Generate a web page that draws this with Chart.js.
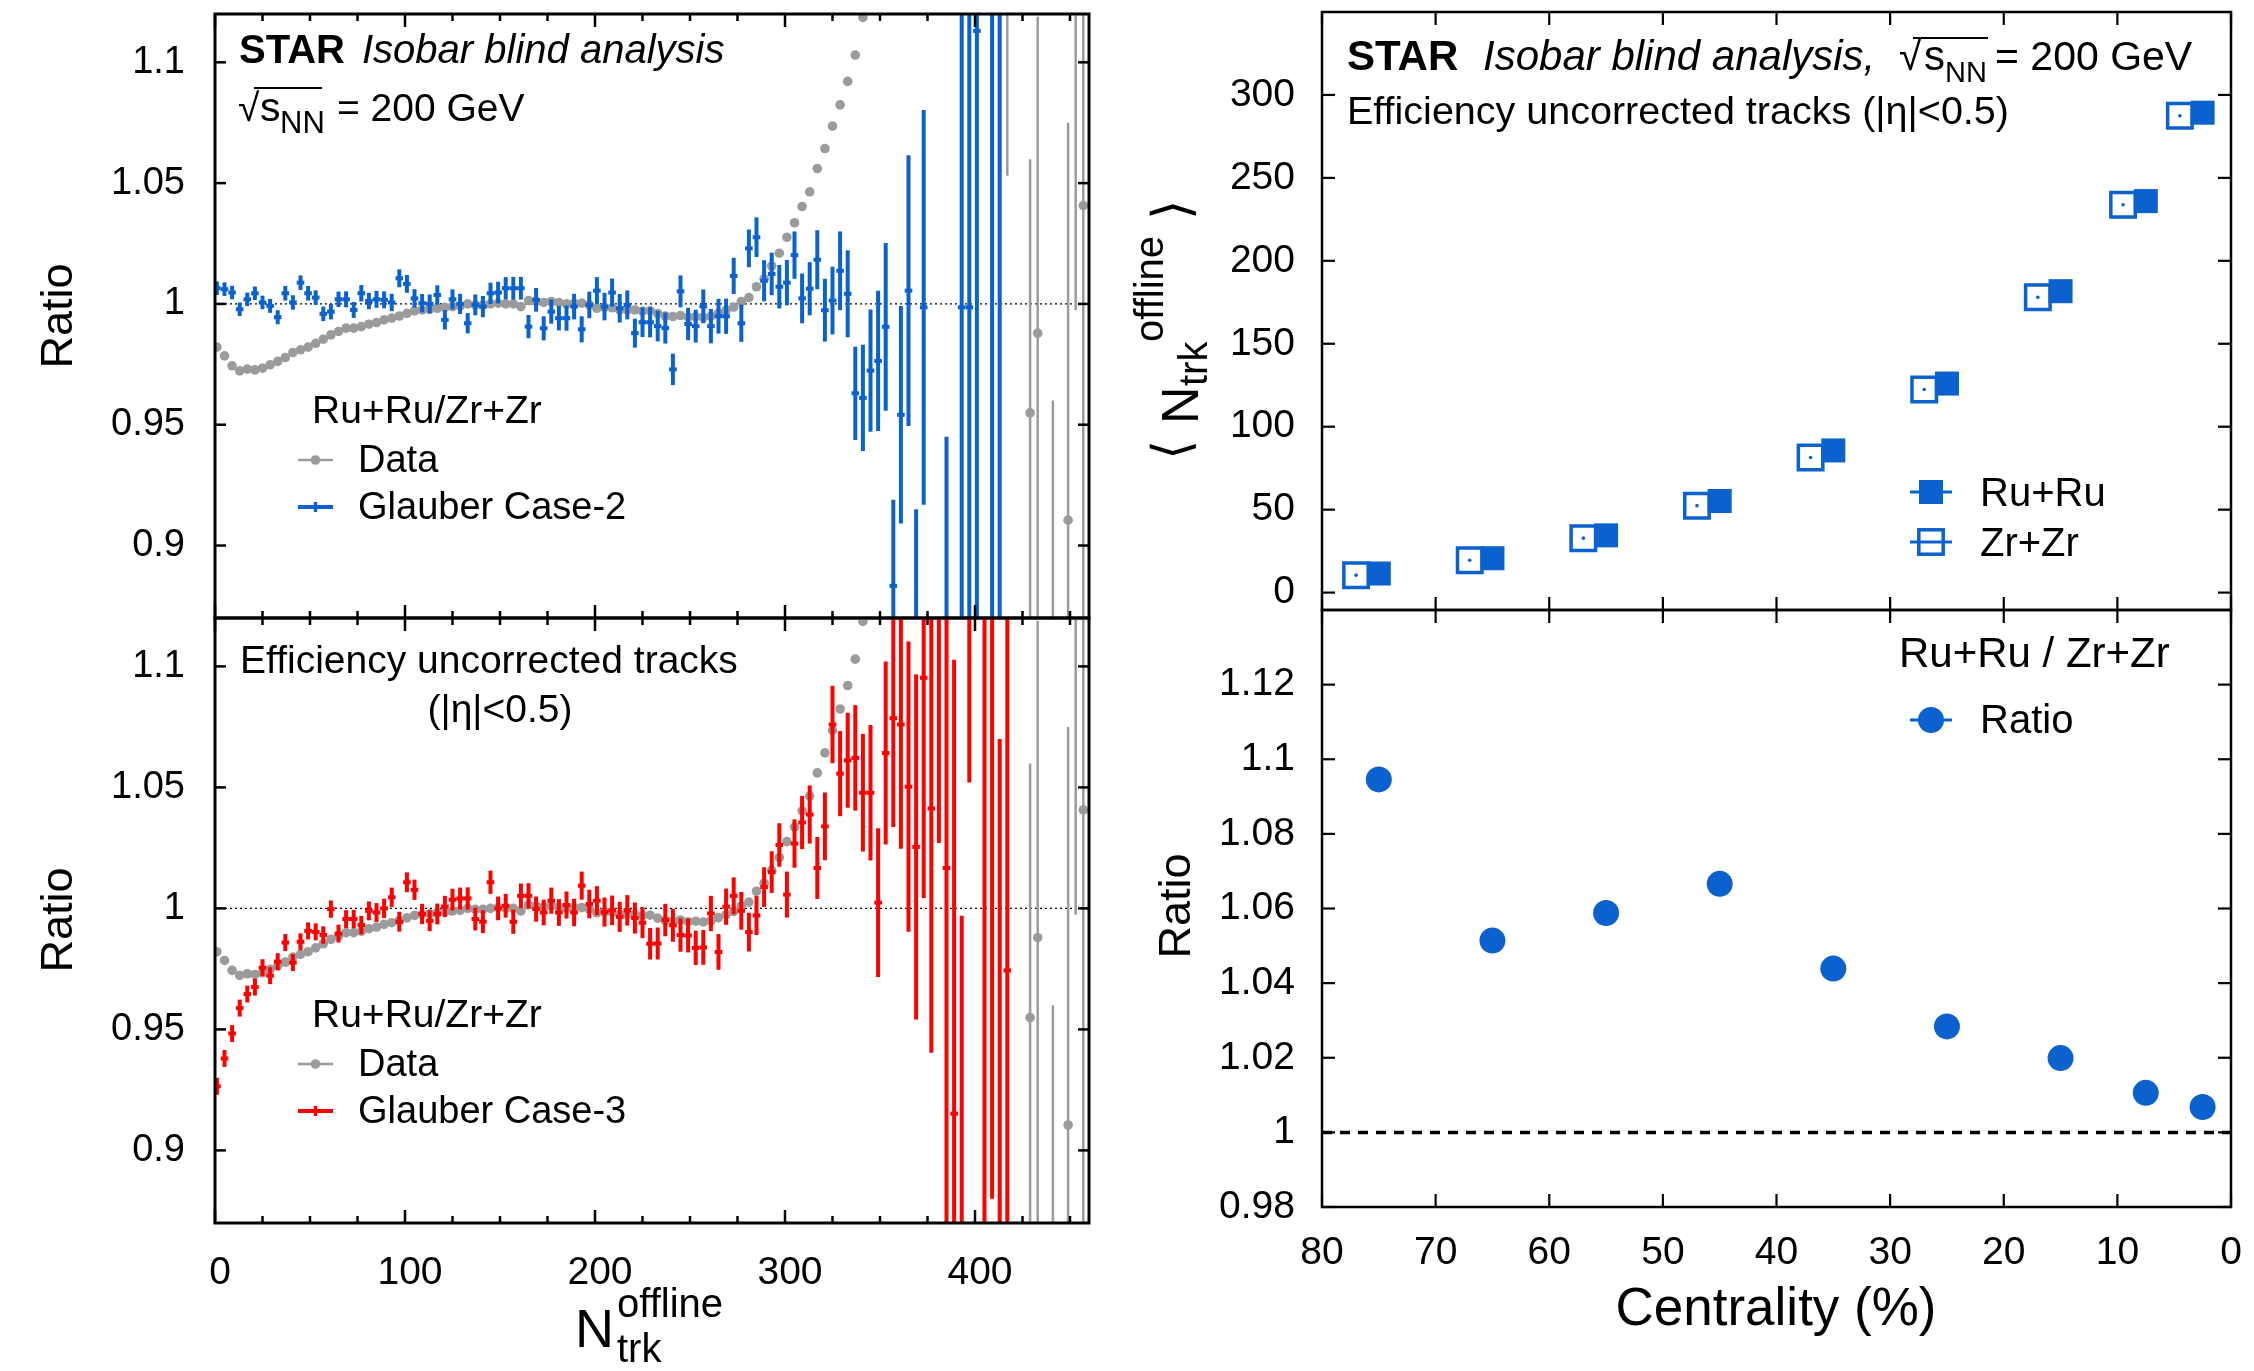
<!DOCTYPE html>
<html><head><meta charset="utf-8">
<script src="https://cdn.jsdelivr.net/npm/chart.js@4.4.1/dist/chart.umd.min.js"></script>
<style>
html,body{margin:0;padding:0;background:#fff;}
#wrap{position:relative;width:2254px;height:1371px;background:#fff;}
canvas{position:absolute;left:0;top:0;}
</style></head>
<body><div id="wrap">
<canvas id="cTL" width="2254" height="1371"></canvas>
<canvas id="cBL" width="2254" height="1371"></canvas>
<canvas id="cTR" width="2254" height="1371"></canvas>
<canvas id="cBR" width="2254" height="1371"></canvas>
</div>
<script>
// ---------------- DATA ----------------
const nTrk = [1,5,9,13,17,21,25,29,33,37,
41,45,49,53,57,61,65,69,73,77,
81,85,89,93,97,101,105,109,113,117,
121,125,129,133,137,141,145,149,153,157,
161,165,169,173,177,181,185,189,193,197,
201,205,209,213,217,221,225,229,233,237,
241,245,249,253,257,261,265,269,273,277,
281,285,289,293,297,301,305,309,313,317,
321,325,329,333,337,341,345,349,353,357,
361,365,369,373,377,381,385,389,393,397,
401,405,409,413,417,421,425,429,433,437,
441,445,449,453,457];

// Data: Ru+Ru/Zr+Zr
const dataRatio = [0.9821,0.9785,0.9744,0.9723,0.9730,0.9727,0.9734,0.9748,0.9762,0.9778,
0.9799,0.9810,0.9821,0.9837,0.9854,0.9872,0.9886,0.9900,0.9900,0.9906,
0.9916,0.9923,0.9934,0.9941,0.9950,0.9961,0.9971,0.9975,0.9978,0.9982,
0.9986,0.9989,0.9992,1.0000,0.9996,0.9996,1.0000,1.0003,1.0000,1.0000,
0.9989,1.0014,1.0010,1.0006,1.0010,1.0006,1.0000,1.0003,1.0003,0.9996,
0.9982,0.9986,0.9984,0.9975,0.9975,0.9975,0.9970,0.9972,0.9960,0.9950,
0.9948,0.9952,0.9945,0.9947,0.9944,0.9949,0.9962,0.9974,0.9987,1.0010,
1.0026,1.0071,1.0104,1.0157,1.0210,1.0276,1.0336,1.0403,1.0464,1.0560,
1.0643,1.0736,1.0824,1.0921,1.1030,1.1186,null,null,null,null,
null,null,null,null,null,null,null,null,null,null,
null,null,null,null,1.2000,null,null,0.9549,0.9879,null,
0.8200,null,0.9105,1.1500,1.0407];
const dataErr = [null,null,null,null,null,null,null,null,null,null,
null,null,null,null,null,null,null,null,null,null,
null,null,null,null,null,null,null,null,null,null,
null,null,null,null,null,null,null,null,null,null,
null,null,null,null,null,null,null,null,null,null,
null,null,null,null,null,null,null,null,null,null,
null,null,null,null,null,null,null,null,null,null,
null,null,null,null,null,null,null,null,null,null,
null,null,null,null,null,null,null,null,null,null,
null,null,null,null,null,null,null,null,null,null,
null,null,null,null,0.147,null,null,0.105,0.131,null,
0.140,null,0.1645,0.1526,0.200];

// Glauber Case-2
const glauber2 = [1.0065,1.0061,1.0047,0.9978,1.0019,1.0044,1.0006,0.9992,0.9945,1.0044,
1.0006,1.0088,1.0044,1.0026,0.9959,0.9968,1.0019,1.0019,0.9975,1.0044,
1.0012,1.0019,1.0017,1.0006,1.0106,1.0083,1.0023,1.0003,1.0000,1.0037,
0.9934,1.0019,1.0000,0.9920,0.9996,0.9989,1.0044,1.0047,1.0065,1.0065,
1.0065,0.9906,1.0017,0.9899,0.9968,0.9941,0.9941,0.9989,0.9895,0.9996,
1.0055,0.9989,1.0047,0.9982,0.9996,0.9879,0.9924,0.9924,0.9908,0.9900,
0.9729,1.0052,0.9917,0.9908,0.9990,0.9908,0.9949,0.9949,1.0116,0.9920,
1.0230,1.0276,1.0096,1.0124,1.0071,1.0088,1.0202,1.0023,1.0063,1.0183,
0.9974,1.0014,1.0137,1.0042,0.9630,0.9611,0.9724,0.9764,0.9905,0.8833,
0.9541,1.0055,0.8200,0.9986,null,null,0.8000,null,0.9986,0.9986,
1.1130,null,1.2000,0.7500,null,null,null,null,null,null,
null,null,null,null,null];
const glauber2Err = [0.0028,0.0028,0.0028,0.0028,0.0028,0.0028,0.0028,0.0029,0.0029,0.0030,
0.0030,0.0030,0.0030,0.0030,0.0030,0.0032,0.0032,0.0033,0.0033,0.0034,
0.0034,0.0035,0.0035,0.0036,0.0037,0.0037,0.0038,0.0038,0.0039,0.0040,
0.0040,0.0041,0.0042,0.0042,0.0043,0.0044,0.0044,0.0045,0.0046,0.0047,
0.0047,0.0048,0.0049,0.0050,0.0050,0.0051,0.0052,0.0053,0.0054,0.0055,
0.0056,0.0057,0.0058,0.0059,0.0060,0.0060,0.0061,0.0062,0.0063,0.0064,
0.0065,0.0066,0.0067,0.0068,0.0070,0.0071,0.0072,0.0073,0.0075,0.0077,
0.0078,0.0082,0.0085,0.0088,0.0090,0.0094,0.0098,0.0103,0.0110,0.0122,
0.0130,0.0140,0.0163,0.0180,0.0193,0.0220,0.0253,0.0290,0.0347,0.0356,
0.0450,0.0560,0.0950,0.0817,null,null,0.1450,null,0.2500,0.2500,
0.3000,null,0.4000,0.4000,null,null,null,null,null,null,
null,null,null,null,null];

// Glauber Case-3
const glauber3 = [0.9265,0.9380,0.9483,0.9588,0.9646,0.9675,0.9755,0.9722,0.9780,0.9859,
0.9776,0.9862,0.9907,0.9903,0.9890,0.9997,0.9896,0.9956,0.9956,0.9931,
0.9990,0.9983,1.0000,1.0046,0.9945,1.0108,1.0077,0.9977,0.9949,0.9977,
1.0008,1.0036,1.0041,1.0041,0.9956,0.9945,1.0108,1.0000,1.0011,0.9945,
1.0052,1.0052,0.9997,0.9983,1.0032,0.9983,1.0014,0.9983,1.0094,1.0018,
1.0032,0.9985,0.9992,0.9965,0.9992,0.9960,0.9941,0.9854,0.9855,0.9952,
0.9930,0.9890,0.9888,0.9837,0.9839,0.9979,0.9820,1.0007,1.0052,0.9990,
0.9902,0.9971,1.0088,1.0150,1.0262,1.0057,1.0268,1.0355,1.0388,1.0167,
1.0339,1.0760,1.0557,1.0612,1.0622,1.0478,1.0478,1.0024,1.0642,1.0786,
1.0760,1.0503,1.0254,1.0953,1.0413,1.1700,1.0167,0.9152,0.8200,1.2000,
null,0.7500,1.2000,0.8000,0.9744,null,null,null,null,null,
null,null,null,null,null];
const glauber3Err = [0.0035,0.0035,0.0035,0.0035,0.0035,0.0035,0.0035,0.0035,0.0035,0.0035,
0.0035,0.0035,0.0035,0.0035,0.0036,0.0036,0.0037,0.0037,0.0038,0.0038,
0.0039,0.0039,0.0040,0.0040,0.0041,0.0041,0.0042,0.0042,0.0043,0.0043,
0.0044,0.0045,0.0045,0.0046,0.0047,0.0047,0.0048,0.0049,0.0049,0.0050,
0.0051,0.0052,0.0052,0.0053,0.0054,0.0055,0.0056,0.0057,0.0058,0.0059,
0.0060,0.0060,0.0061,0.0062,0.0063,0.0064,0.0064,0.0065,0.0066,0.0067,
0.0068,0.0069,0.0070,0.0071,0.0072,0.0073,0.0074,0.0075,0.0076,0.0078,
0.0080,0.0081,0.0082,0.0086,0.0090,0.0095,0.0100,0.0110,0.0120,0.0128,
0.0140,0.0160,0.0176,0.0196,0.0218,0.0243,0.0280,0.0307,0.0378,0.0450,
0.0514,0.0600,0.0713,0.0910,0.1010,0.1430,0.1700,0.1875,0.1770,0.1480,
null,0.5000,0.3200,0.2700,0.3000,null,null,null,null,null,
null,null,null,null,null];

// Right panels
const centrality = [75,65,55,45,35,25,15,7.5,2.5];
const nchRuRu = [11.5,20.7,34.5,55.2,85.7,126.0,181.7,236.0,289.3];
const nchZrZr = [10.5,19.5,32.8,52.4,81.4,122.4,178.0,233.8,287.4];
const ruZrRatio = [1.0946,1.0514,1.0588,1.0666,1.0439,1.0284,1.0199,1.0106,1.0068];

// Ticks
const leftXTicks = [0,100,200,300,400];
const leftXTickLabels = ['0','100','200','300','400'];
const leftXMinorTicks = [25,50,75,125,150,175,225,250,275,325,350,375,425,450];
const leftYTicks = [0.9,0.95,1,1.05,1.1];
const leftYTickLabels = ['0.9','0.95','1','1.05','1.1'];
const rightXTicks = [0,10,20,30,40,50,60,70,80];
const rightXTickLabels = ['0','10','20','30','40','50','60','70','80'];
const topRightYTicks = [0,50,100,150,200,250,300];
const topRightYTickLabels = ['0','50','100','150','200','250','300'];
const botRightYTicks = [0.98,1,1.02,1.04,1.06,1.08,1.1,1.12];
const botRightYTickLabels = ['0.98','1','1.02','1.04','1.06','1.08','1.1','1.12'];

// ---------------- STYLE ----------------
const W = 2254, H = 1371;
const YAXW = 200;
const FONT = "'Liberation Sans', Arial, Helvetica, 'DejaVu Sans', sans-serif";
const BLUE = '#0b62cf', RED = '#ff0000', GRAY = '#9b9b9b';
const AREA = {
  TL:{l:215,t:14,r:1089,b:618},
  BL:{l:215,t:618,r:1089,b:1223},
  TR:{l:1322,t:12,r:2231,b:610},
  BR:{l:1322,t:610,r:2231,b:1207}
};
const ZR_SHIFT = 2; // Zr+Zr drawn shifted in centrality for visibility

function pts(xs, ys, es) {
  const out = [];
  xs.forEach((x, i) => { if (ys[i] !== null && ys[i] !== undefined) out.push({x: x, y: ys[i], e: es ? es[i] : null}); });
  return out;
}

function T(ctx, s, x, y, size, o) {
  o = o || {};
  ctx.save();
  ctx.font = (o.italic ? 'italic ' : '') + (o.bold ? 'bold ' : '') + size + 'px ' + FONT;
  ctx.fillStyle = o.color || '#000';
  ctx.textAlign = o.align || 'left';
  ctx.textBaseline = o.base || 'alphabetic';
  if (o.rot) { ctx.translate(x, y); ctx.rotate(o.rot); ctx.fillText(s, 0, 0); }
  else ctx.fillText(s, x, y);
  const w = ctx.measureText(s).width;
  ctx.restore();
  return w;
}
function seg(ctx, x1, y1, x2, y2, color, lw, dash) {
  ctx.save();
  ctx.strokeStyle = color; ctx.lineWidth = lw; ctx.setLineDash(dash || []);
  ctx.beginPath(); ctx.moveTo(x1, y1); ctx.lineTo(x2, y2); ctx.stroke();
  ctx.restore();
}

const errbarPlugin = {
  id: 'errbars',
  afterDatasetsDraw(chart) {
    const {ctx, chartArea: a, scales: {x, y}} = chart;
    ctx.save();
    ctx.beginPath(); ctx.rect(a.left, a.top, a.right - a.left, a.bottom - a.top); ctx.clip();
    const dss = chart.data.datasets;
    for (let k = dss.length - 1; k >= 0; k--) {
      const ds = dss[k];
      if (!ds.errStyle) continue;
      ctx.strokeStyle = ds.errStyle.color; ctx.lineWidth = ds.errStyle.lw; ctx.lineCap = 'butt';
      ds.data.forEach(p => {
        const px = x.getPixelForValue(p.x), py = y.getPixelForValue(p.y);
        if (p.e) {
          ctx.beginPath();
          ctx.moveTo(px, y.getPixelForValue(p.y - p.e));
          ctx.lineTo(px, y.getPixelForValue(p.y + p.e));
          ctx.stroke();
        }
        if (ds.errStyle.xe) {
          ctx.beginPath();
          ctx.moveTo(x.getPixelForValue(p.x - ds.errStyle.xe), py);
          ctx.lineTo(x.getPixelForValue(p.x + ds.errStyle.xe), py);
          ctx.stroke();
        }
      });
    }
    ctx.restore();
  }
};

function drawFrame(chart, fo) {
  const {ctx, chartArea: a, scales: {x, y}} = chart;
  ctx.save();
  ctx.strokeStyle = '#000'; ctx.lineWidth = fo.lw; ctx.setLineDash([]);
  ctx.strokeRect(a.left, a.top, a.right - a.left, a.bottom - a.top);
  ctx.lineWidth = fo.tickLw;
  const s = (x1, y1, x2, y2) => { ctx.beginPath(); ctx.moveTo(x1, y1); ctx.lineTo(x2, y2); ctx.stroke(); };
  fo.xMajor.forEach(v => { const p = x.getPixelForValue(v); s(p, a.bottom, p, a.bottom - fo.xLen); s(p, a.top, p, a.top + fo.xLen); });
  (fo.xMinor || []).forEach(v => { const p = x.getPixelForValue(v); s(p, a.bottom, p, a.bottom - fo.xMinLen); s(p, a.top, p, a.top + fo.xMinLen); });
  fo.yMajor.forEach(v => { const p = y.getPixelForValue(v); s(a.left, p, a.left + fo.yLen, p); s(a.right, p, a.right - fo.yLen, p); });
  ctx.restore();
}

function opts(o) {
  const a = o.area;
  const zeroPad = s => { s.paddingLeft = 0; s.paddingRight = 0; s.paddingTop = 0; s.paddingBottom = 0; };
  return {
    responsive: false, animation: false, events: [],
    layout: { autoPadding: false, padding: { left: a.l - YAXW, top: a.t, right: W - a.r, bottom: H - a.b - 100 } },
    plugins: { legend: { display: false }, tooltip: { enabled: false } },
    scales: {
      x: {
        type: 'linear', min: o.xMin, max: o.xMax, reverse: !!o.xRev,
        grid: { display: false }, border: { display: false },
        ticks: { display: !!o.showX, padding: o.xPad || 0, labelOffset: o.xLabelOffset || 0,
          font: { size: o.xFont || 39, family: FONT }, color: '#000', maxRotation: 0, minRotation: 0, autoSkip: false,
          callback: (v, i) => o.xLabels[i] },
        afterBuildTicks: s => { s.ticks = o.xTicks.map(v => ({value: v})); },
        afterFit: s => { s.height = 100; zeroPad(s); }
      },
      y: {
        type: 'linear', min: o.yMin, max: o.yMax,
        grid: { display: false }, border: { display: false },
        ticks: { display: true, padding: o.yPad, font: { size: o.yFont || 39, family: FONT }, color: '#000', autoSkip: false,
          callback: (v, i) => o.yLabels[i] },
        afterBuildTicks: s => { s.ticks = o.yTicks.map(v => ({value: v})); },
        afterFit: s => { s.width = YAXW; zeroPad(s); }
      }
    }
  };
}

function leftDeco(id, isTop) {
  return {
    id: id,
    beforeDatasetsDraw(chart) {
      const {ctx, chartArea: a, scales: {y}} = chart;
      const p = y.getPixelForValue(1);
      seg(ctx, a.left, p, a.right, p, '#000', 1.3, [2, 3]);
    },
    afterDraw(chart) {
      const ctx = chart.ctx;
      drawFrame(chart, { lw: 3, tickLw: 2.5, xMajor: leftXTicks, xMinor: leftXMinorTicks, xLen: 13, xMinLen: 7, yMajor: leftYTicks, yLen: 11 });
      const off = isTop ? 0 : 604;
      // y axis title
      T(ctx, 'Ratio', 72, isTop ? 316 : 920, 45, { rot: -Math.PI / 2, align: 'center' });
      // legend
      T(ctx, 'Ru+Ru/Zr+Zr', 312, 423 + off, 39);
      seg(ctx, 298, 460 + off, 333, 460 + off, GRAY, 2.5);
      ctx.save(); ctx.fillStyle = GRAY; ctx.beginPath(); ctx.arc(315.5, 460 + off, 4.8, 0, Math.PI * 2); ctx.fill(); ctx.restore();
      T(ctx, 'Data', 358, 472 + off, 38);
      const c = isTop ? BLUE : RED;
      seg(ctx, 298, 507 + off, 333, 507 + off, c, 4);
      seg(ctx, 315.5, 502 + off, 315.5, 512 + off, c, 3.5);
      T(ctx, isTop ? 'Glauber Case-2' : 'Glauber Case-3', 358, 519 + off, 38);
      if (isTop) {
        T(ctx, 'STAR', 239, 63, 40, { bold: true });
        T(ctx, 'Isobar blind analysis', 362, 63, 40, { italic: true });
        T(ctx, '\u221A', 238, 121, 39);
        T(ctx, 's', 260, 121, 41);
        T(ctx, 'NN', 280, 133, 31);
        seg(ctx, 254, 88, 322, 88, '#000', 2.2);
        T(ctx, '= 200 GeV', 337, 121, 39);
      } else {
        T(ctx, 'Efficiency uncorrected tracks', 240, 673, 39);
        T(ctx, '(|\u03B7|<0.5)', 500, 722, 39, { align: 'center' });
        // x axis title
        T(ctx, 'N', 575, 1347, 54);
        T(ctx, 'offline', 617, 1317, 40);
        T(ctx, 'trk', 617, 1362, 40);
      }
    }
  };
}

// ---------------- LEFT TOP ----------------
new Chart(document.getElementById('cTL'), {
  type: 'scatter',
  data: { datasets: [
    { label: 'Glauber Case-2', data: pts(nTrk, glauber2, glauber2Err), pointRadius: 0, errStyle: { color: BLUE, lw: 4, xe: 2 } },
    { label: 'Data', data: pts(nTrk, dataRatio, dataErr), pointRadius: 4.8, pointBorderWidth: 0, pointBackgroundColor: GRAY, errStyle: { color: GRAY, lw: 2.5, xe: 0 } }
  ]},
  options: opts({ area: AREA.TL, xMin: 0, xMax: 460, xTicks: leftXTicks, xLabels: leftXTickLabels, showX: false,
    yMin: 0.87, yMax: 1.12, yTicks: leftYTicks, yLabels: leftYTickLabels, yPad: 22, yFont: 38 }),
  plugins: [errbarPlugin, leftDeco('decoTL', true)]
});

// ---------------- LEFT BOTTOM ----------------
new Chart(document.getElementById('cBL'), {
  type: 'scatter',
  data: { datasets: [
    { label: 'Glauber Case-3', data: pts(nTrk, glauber3, glauber3Err), pointRadius: 0, errStyle: { color: RED, lw: 4, xe: 2 } },
    { label: 'Data', data: pts(nTrk, dataRatio, dataErr), pointRadius: 4.8, pointBorderWidth: 0, pointBackgroundColor: GRAY, errStyle: { color: GRAY, lw: 2.5, xe: 0 } }
  ]},
  options: opts({ area: AREA.BL, xMin: 0, xMax: 460, xTicks: leftXTicks, xLabels: leftXTickLabels, showX: true, xPad: 19, xLabelOffset: 5,
    yMin: 0.87, yMax: 1.12, yTicks: leftYTicks, yLabels: leftYTickLabels, yPad: 22, yFont: 38 }),
  plugins: [errbarPlugin, leftDeco('decoBL', false)]
});

// ---------------- RIGHT TOP ----------------
new Chart(document.getElementById('cTR'), {
  type: 'scatter',
  data: { datasets: [
    { label: 'Ru+Ru', data: pts(centrality, nchRuRu), pointStyle: 'rect', pointRadius: 17, pointBorderWidth: 0, pointBackgroundColor: BLUE },
    { label: 'Zr+Zr', data: pts(centrality.map(c => c + ZR_SHIFT), nchZrZr), pointStyle: 'rect', pointRadius: 17.3, pointBorderWidth: 3.5, pointBorderColor: BLUE, pointBackgroundColor: 'rgba(255,255,255,0)' }
  ]},
  options: opts({ area: AREA.TR, xMin: 0, xMax: 80, xRev: true, xTicks: rightXTicks, xLabels: rightXTickLabels, showX: false,
    yMin: -10.5, yMax: 350, yTicks: topRightYTicks, yLabels: topRightYTickLabels, yPad: 19 }),
  plugins: [{
    id: 'decoTR',
    afterDatasetsDraw(chart) {
      const ctx = chart.ctx;
      const meta = chart.getDatasetMeta(1);
      ctx.save(); ctx.fillStyle = BLUE;
      meta.data.forEach(el => { ctx.beginPath(); ctx.arc(el.x, el.y, 1.8, 0, Math.PI * 2); ctx.fill(); });
      ctx.restore();
    },
    afterDraw(chart) {
      const ctx = chart.ctx;
      drawFrame(chart, { lw: 2.5, tickLw: 2.2, xMajor: rightXTicks, xLen: 13, yMajor: topRightYTicks, yLen: 13 });
      T(ctx, 'STAR', 1347, 70, 42, { bold: true });
      T(ctx, 'Isobar blind analysis,', 1483, 70, 42, { italic: true });
      T(ctx, '\u221A', 1899, 70, 41);
      T(ctx, 's', 1924, 70, 42);
      T(ctx, 'NN', 1945, 82, 29);
      seg(ctx, 1913, 38, 1988, 38, '#000', 2.2);
      T(ctx, '= 200 GeV', 1995, 70, 41);
      T(ctx, 'Efficiency uncorrected tracks (|\u03B7|<0.5)', 1347, 124, 39.5);
      // legend
      seg(ctx, 1910, 492, 1952, 492, BLUE, 3);
      ctx.save(); ctx.fillStyle = BLUE; ctx.fillRect(1931 - 12, 492 - 12, 24, 24); ctx.restore();
      T(ctx, 'Ru+Ru', 1980, 506, 40);
      seg(ctx, 1910, 542, 1952, 542, BLUE, 3);
      ctx.save(); ctx.strokeStyle = BLUE; ctx.lineWidth = 3.5; ctx.strokeRect(1931 - 12.2, 542 - 12.2, 24.4, 24.4); ctx.restore();
      T(ctx, 'Zr+Zr', 1980, 556, 40);
      // y title  < N_trk^offline >
      ctx.save();
      ctx.translate(1198, 460); ctx.rotate(-Math.PI / 2);
      T(ctx, '\u27E8', 0, -23, 52, { base: 'middle' });
      T(ctx, 'N', 36, 0, 52);
      T(ctx, 'trk', 74, 9, 40);
      T(ctx, 'offline', 118, -35, 40);
      T(ctx, '\u27E9', 240, -23, 52, { base: 'middle' });
      ctx.restore();
    }
  }]
});

// ---------------- RIGHT BOTTOM ----------------
new Chart(document.getElementById('cBR'), {
  type: 'scatter',
  data: { datasets: [
    { label: 'Ratio', data: pts(centrality, ruZrRatio), pointStyle: 'circle', pointRadius: 13, pointBorderWidth: 0, pointBackgroundColor: BLUE }
  ]},
  options: opts({ area: AREA.BR, xMin: 0, xMax: 80, xRev: true, xTicks: rightXTicks, xLabels: rightXTickLabels, showX: true, xPad: 15,
    yMin: 0.98, yMax: 1.14, yTicks: botRightYTicks, yLabels: botRightYTickLabels, yPad: 19 }),
  plugins: [{
    id: 'decoBR',
    beforeDatasetsDraw(chart) {
      const {ctx, chartArea: a, scales: {y}} = chart;
      const p = y.getPixelForValue(1);
      seg(ctx, a.left, p, a.right, p, '#000', 3.5, [10, 8]);
    },
    afterDraw(chart) {
      const ctx = chart.ctx;
      drawFrame(chart, { lw: 2.5, tickLw: 2.2, xMajor: rightXTicks, xLen: 13, yMajor: botRightYTicks, yLen: 13 });
      T(ctx, 'Ru+Ru / Zr+Zr', 1899, 667, 42);
      seg(ctx, 1910, 720, 1952, 720, BLUE, 3);
      ctx.save(); ctx.fillStyle = BLUE; ctx.beginPath(); ctx.arc(1931, 720, 13, 0, Math.PI * 2); ctx.fill(); ctx.restore();
      T(ctx, 'Ratio', 1980, 733, 40);
      T(ctx, 'Ratio', 1190, 906, 45, { rot: -Math.PI / 2, align: 'center' });
      T(ctx, 'Centrality (%)', 1776, 1325, 53, { align: 'center' });
    }
  }]
});
</script>
</body></html>
